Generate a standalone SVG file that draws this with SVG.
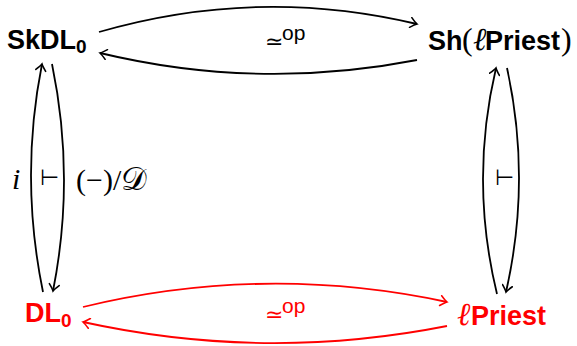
<svg xmlns="http://www.w3.org/2000/svg" width="577" height="346" viewBox="0 0 577 346">
<style>
.b{font-family:"Liberation Sans",Arial,sans-serif;font-weight:bold;font-size:27px}
.s{font-family:"Liberation Serif","DejaVu Serif",serif;font-weight:normal}
.n{font-family:"Liberation Sans",Arial,sans-serif;font-size:21px}
.sym{font-family:"DejaVu Sans",sans-serif;font-size:22px}
.k{fill:#000}
.r{fill:#ff0000}
.e{fill:none;stroke-width:1.8}
.ek{stroke:#000}
.er{stroke:#ff0000}
</style>
<defs>
<marker id="ak" viewBox="-10 -6 12 12" markerWidth="12" markerHeight="12" refX="0" refY="0" orient="auto" markerUnits="userSpaceOnUse">
<path d="M-6.5,-5 Q-2,-1 0,0 Q-2,1 -6.5,5" fill="none" stroke="#000" stroke-width="1.6" stroke-linecap="round"/>
</marker>
<marker id="ar" viewBox="-10 -6 12 12" markerWidth="12" markerHeight="12" refX="0" refY="0" orient="auto" markerUnits="userSpaceOnUse">
<path d="M-6.5,-5 Q-2,-1 0,0 Q-2,1 -6.5,5" fill="none" stroke="#ff0000" stroke-width="1.6" stroke-linecap="round"/>
</marker>
</defs>
<g id="connectors">
<path class="e ek" d="M99,32 Q258,-14 417,24" marker-end="url(#ak)"/>
<path class="e ek" d="M417,60 Q258,91 100,53" marker-end="url(#ak)"/>
<path class="e er" d="M83,307 Q265,263 447,302" marker-end="url(#ar)"/>
<path class="e er" d="M447,326 Q265,362 83,322" marker-end="url(#ar)"/>
<path class="e ek" d="M43,292 Q19.5,177.5 42,64" marker-end="url(#ak)"/>
<path class="e ek" d="M52,64 Q75.5,177.5 53,291" marker-end="url(#ak)"/>
<path class="e ek" d="M497,294 Q469.5,181 496,68" marker-end="url(#ak)"/>
<path class="e ek" d="M507,68 Q531.5,180 506,292" marker-end="url(#ak)"/>
<g id="label-top">
<text class="sym k" x="265" y="49">≃</text><text class="n k" x="282" y="40">op</text>
</g>
<g id="label-bottom">
<text class="sym r" x="265" y="322">≃</text><text class="n r" x="282" y="313">op</text>
</g>
<g id="label-left">
<text class="s k" x="12" y="189" font-size="30" font-style="italic">i</text>
<text class="sym k" x="40" y="185" font-size="15">⊢</text>
<text class="s k" x="76" y="190" font-size="30">(−)/<tspan font-size="32">𝒟</tspan></text>
</g>
<g id="label-right">
<text class="sym k" x="495" y="185" font-size="15">⊢</text>
</g>
</g>
<g id="node-SkDL0">
<text class="b k" x="7" y="49">SkDL<tspan font-size="19" dy="4">0</tspan></text>
</g>
<g id="node-Sh-lPriest">
<text class="b k" y="50"><tspan x="428">Sh</tspan><tspan class="s" x="462" font-size="32">(</tspan><tspan class="s" x="473" font-size="32" font-style="italic">ℓ</tspan><tspan x="485">Priest</tspan><tspan class="s" x="561" font-size="32">)</tspan></text>
</g>
<g id="node-DL0">
<text class="b r" x="25" y="322">DL<tspan font-size="19" dy="5">0</tspan></text>
</g>
<g id="node-lPriest">
<text class="b r" y="325"><tspan class="s" x="457" font-size="32" font-style="italic">ℓ</tspan><tspan x="471">Priest</tspan></text>
</g>
</svg>
